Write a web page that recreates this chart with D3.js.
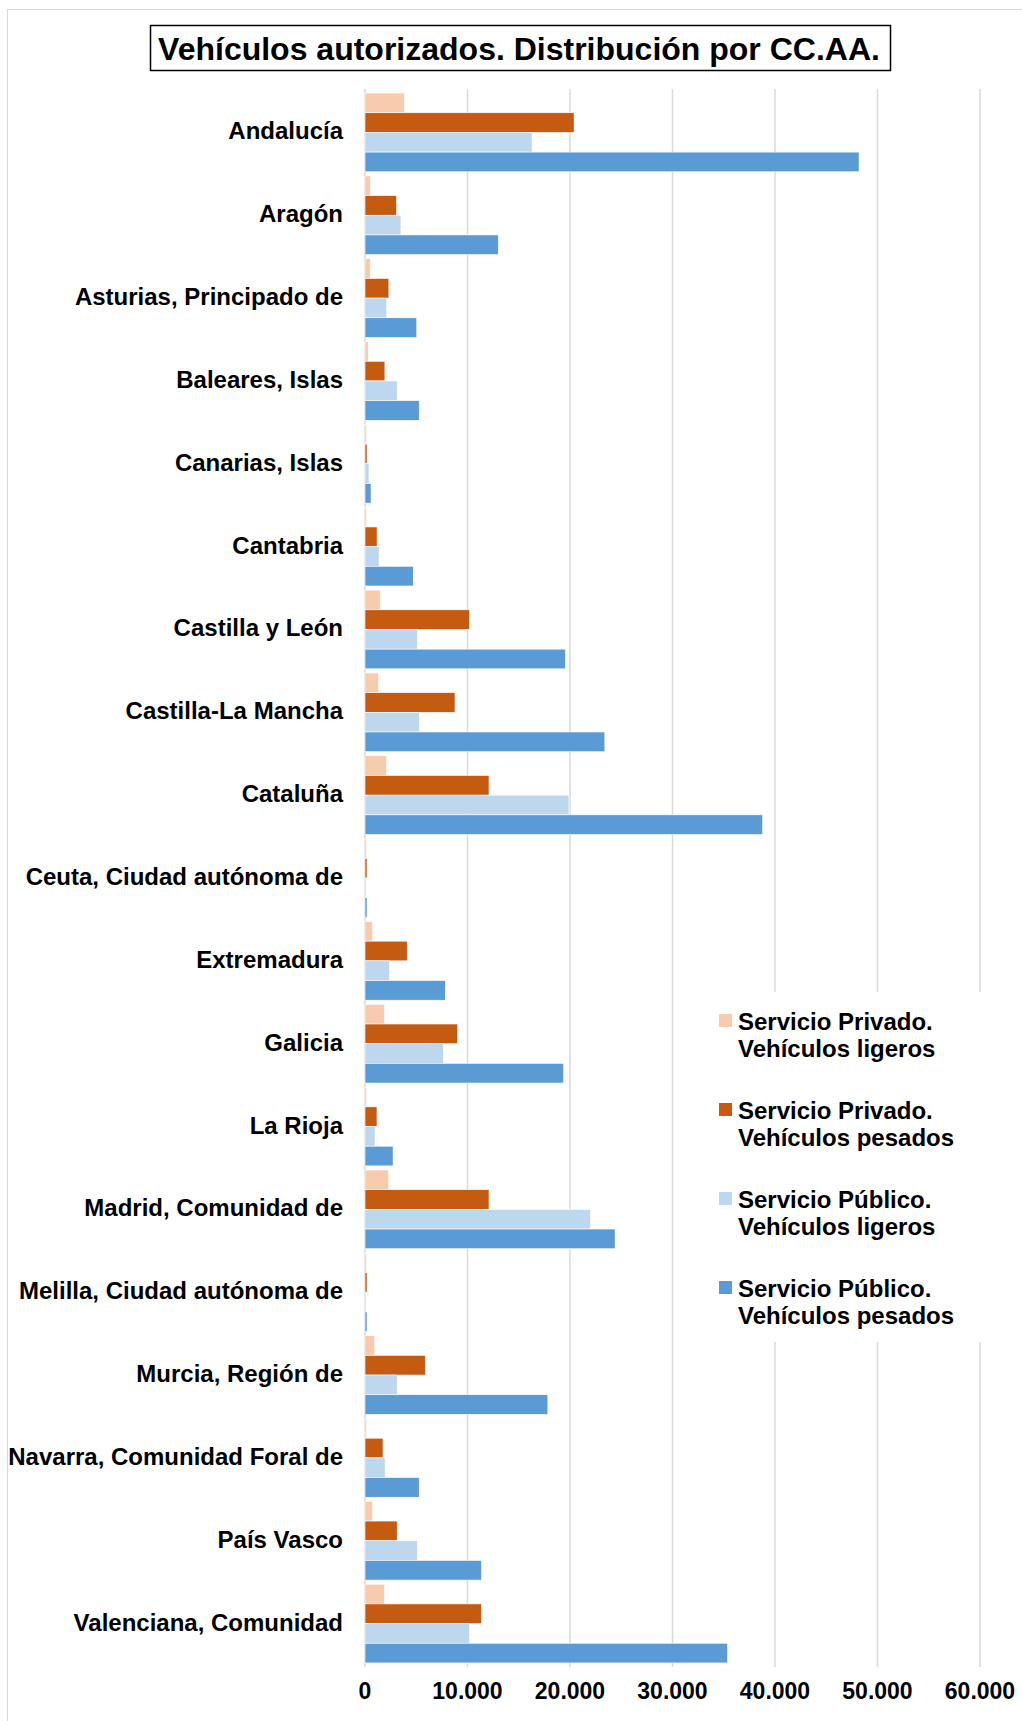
<!DOCTYPE html>
<html>
<head>
<meta charset="utf-8">
<script src="https://cdn.jsdelivr.net/npm/d3@7"></script>
<style>
  body { margin: 0; background: #fff; }
  text { font-family: "Liberation Sans", Arial, sans-serif; font-weight: bold; fill: #000; }
</style>
</head>
<body>
<svg id="chart" width="1022" height="1721"></svg>
<script>
const title = "Vehículos autorizados. Distribución por CC.AA.";
const categories = [
  "Andalucía", "Aragón", "Asturias, Principado de", "Baleares, Islas", "Canarias, Islas",
  "Cantabria", "Castilla y León", "Castilla-La Mancha", "Cataluña", "Ceuta, Ciudad autónoma de",
  "Extremadura", "Galicia", "La Rioja", "Madrid, Comunidad de", "Melilla, Ciudad autónoma de",
  "Murcia, Región de", "Navarra, Comunidad Foral de", "País Vasco", "Valenciana, Comunidad"
];
const seriesNames = [
  ["Servicio Privado.", "Vehículos ligeros"],
  ["Servicio Privado.", "Vehículos pesados"],
  ["Servicio Público.", "Vehículos ligeros"],
  ["Servicio Público.", "Vehículos pesados"]
];
const privadoLigeros = [3850, 520, 520, 310, 160, 160, 1500, 1330, 2110, 160, 750, 1900, 160, 2310, 160, 950, 160, 750, 1900];
const privadoPesados = [20400, 3080, 2330, 1940, 200, 1180, 10200, 8780, 12100, 200, 4120, 9020, 1170, 12100, 200, 5880, 1760, 3140, 11370];
const publicoLigeros = [16300, 3500, 2120, 3140, 390, 1370, 5100, 5300, 19900, 100, 2390, 7650, 980, 22000, 100, 3140, 1960, 5100, 10200];
const publicoPesados = [48200, 13000, 5050, 5290, 590, 4710, 19550, 23400, 38800, 200, 7840, 19380, 2740, 24400, 200, 17840, 5290, 11370, 35370];
const tickValues = [0, 10000, 20000, 30000, 40000, 50000, 60000];
const tickLabels = ["0", "10.000", "20.000", "30.000", "40.000", "50.000", "60.000"];
const colors = ["#F8CBAD", "#C55A11", "#BDD7EE", "#5B9BD5"];

const series = [privadoLigeros, privadoPesados, publicoLigeros, publicoPesados];

const svg = d3.select("#chart");

// outer chart border
svg.append("rect").attr("x", 7.5).attr("y", 9.5).attr("width", 1030).attr("height", 1730)
  .attr("fill", "none").attr("stroke", "#D9D9D9").attr("stroke-width", 1);

const x = d3.scaleLinear().domain([0, 60000]).range([365, 980]);
const y = d3.scaleBand().domain(categories).range([91, 1665]).paddingInner(0.05).paddingOuter(0.025);
const ySub = d3.scaleBand().domain(d3.range(4)).range([0, y.bandwidth()]).padding(0);

// gridlines
svg.append("g").selectAll("line").data(tickValues).join("line")
  .attr("x1", d => x(d)).attr("x2", d => x(d))
  .attr("y1", 89).attr("y2", 1667)
  .attr("stroke", "#D9D9D9").attr("stroke-width", 1.5);

// bars
const groups = svg.append("g").selectAll("g").data(categories).join("g")
  .attr("transform", c => `translate(0,${y(c)})`);
groups.selectAll("rect").data((c, i) => series.map((s, k) => ({k, v: s[i]}))).join("rect")
  .attr("x", x(0))
  .attr("y", d => ySub(d.k))
  .attr("width", d => x(d.v) - x(0))
  .attr("height", ySub.bandwidth())
  .attr("fill", d => colors[d.k])
  .attr("stroke", "#fff").attr("stroke-width", 0.6);

// category labels
svg.append("g").selectAll("text").data(categories).join("text")
  .attr("x", 343)
  .attr("y", c => y(c) + y.bandwidth() / 2 + 7)
  .attr("text-anchor", "end")
  .attr("font-size", 24)
  .text(c => c);

// x axis tick labels
svg.append("g").selectAll("text").data(tickValues).join("text")
  .attr("x", d => x(d))
  .attr("y", 1699)
  .attr("text-anchor", "middle")
  .attr("font-size", 23)
  .text((d, i) => tickLabels[i]);

// title
svg.append("rect").attr("x", 150.5).attr("y", 25.5).attr("width", 740).attr("height", 45)
  .attr("fill", "#fff").attr("stroke", "#000").attr("stroke-width", 1.5);
svg.append("text").attr("x", 519).attr("y", 59.5).attr("text-anchor", "middle")
  .attr("font-size", 32).text(title);

// legend
const legend = svg.append("g");
legend.append("rect").attr("x", 702).attr("y", 992).attr("width", 312).attr("height", 350).attr("fill", "#fff");
const le = legend.selectAll("g").data(seriesNames).join("g")
  .attr("transform", (d, i) => `translate(0,${1021 + i * 89})`);
le.append("rect").attr("x", 719).attr("y", -7).attr("width", 13).attr("height", 13)
  .attr("fill", (d, i) => colors[i]);
le.append("text").attr("x", 738).attr("y", 8.5).attr("font-size", 24).text(d => d[0]);
le.append("text").attr("x", 738).attr("y", 36).attr("font-size", 24).text(d => d[1]);
</script>
</body>
</html>
